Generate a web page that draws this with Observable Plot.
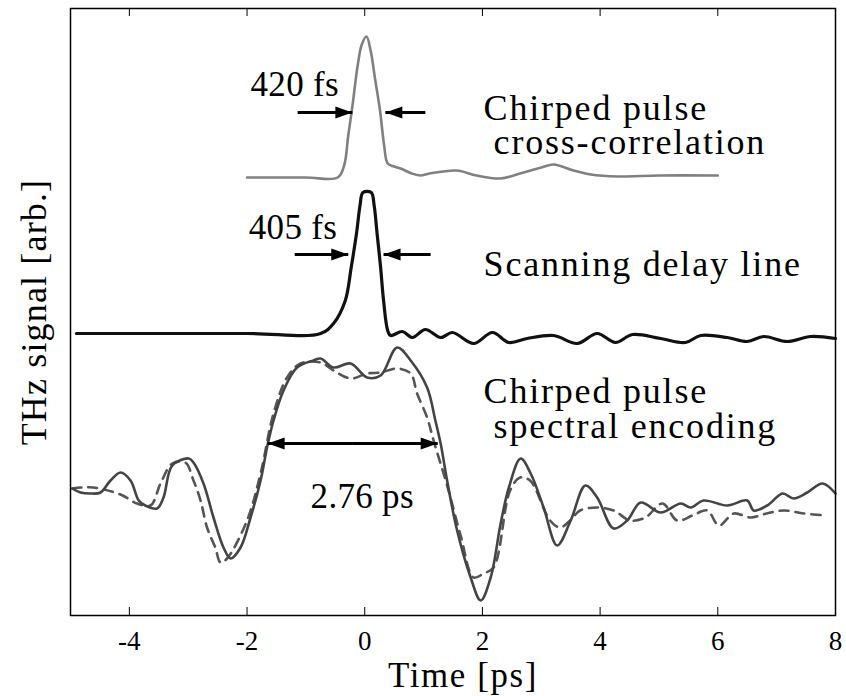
<!DOCTYPE html>
<html><head><meta charset="utf-8">
<script src="https://cdn.jsdelivr.net/npm/d3@7"></script>
<script src="https://cdn.jsdelivr.net/npm/@observablehq/plot@0.6"></script>
<style>
body{margin:0;background:#fff}
svg text{font-family:"Liberation Serif",serif !important;}
.word-labels text, g[font-size="36"] text{letter-spacing:1.8px;}
.number-labels text, g[font-size="35"] text{letter-spacing:0.3px;}
.x-title text, g[font-size="34.9"] text{letter-spacing:1.6px;}
.y-title text, g[font-size="35.9"] text{letter-spacing:1.2px;}
</style>
</head><body><div id="chart"></div>
<script>
// Chirped pulse cross-correlation (gray, top)
const crossT = [-2.0, -1.0, -0.46, -0.35, -0.28, -0.21, -0.12, -0.05, 0.03, 0.1, 0.18, 0.26, 0.33, 0.39, 0.5, 0.61, 0.8, 0.95, 1.1, 1.56, 1.9, 2.31, 2.7, 3.0, 3.21, 3.55, 3.84, 4.3, 5.0, 6.0];
const crossV = [43.8, 43.8, 43.8, 45.0, 48.0, 50.9, 55.0, 57.1, 57.9, 56.5, 53.5, 50.5, 47.0, 45.2, 44.9, 44.7, 44.2, 44.0, 44.2, 44.5, 44.0, 43.7, 44.3, 44.8, 45.1, 44.5, 44.1, 43.9, 44.0, 44.0];

// Scanning delay line (black, middle)
const scanT = [-4.9, -2.0, -0.75, -0.53, -0.33, -0.23, -0.14, -0.08, -0.03, 0.11, 0.16, 0.21, 0.27, 0.32, 0.39, 0.44, 0.64, 0.81, 1.03, 1.29, 1.49, 1.85, 2.17, 2.45, 2.76, 3.21, 3.61, 3.95, 4.26, 4.55, 5.03, 5.45, 5.71, 6.16, 6.5, 6.78, 7.18, 7.58, 8.0];
const scanV = [28.2, 28.2, 28.2, 29.2, 31.5, 34.8, 38.2, 41.0, 42.3, 42.3, 41.0, 38.2, 34.8, 31.5, 28.5, 28.0, 28.4, 27.8, 28.6, 27.8, 28.3, 27.2, 28.3, 27.3, 27.7, 28.0, 27.2, 28.2, 27.3, 28.1, 27.7, 27.3, 28.0, 27.8, 27.4, 27.9, 27.4, 27.9, 27.7];

// Chirped pulse spectral encoding, solid trace
const specT = [-4.97, -4.83, -4.66, -4.49, -4.32, -4.15, -3.98, -3.84, -3.73, -3.53, -3.42, -3.27, -2.99, -2.91, -2.74, -2.57, -2.40, -2.28, -2.11, -1.94, -1.77, -1.66, -1.55, -1.38, -1.15, -0.87, -0.75, -0.53, -0.24, 0.04, 0.27, 0.55, 0.78, 1.06, 1.20, 1.29, 1.40, 1.57, 1.80, 1.97, 2.14, 2.31, 2.45, 2.65, 2.82, 3.04, 3.27, 3.50, 3.75, 3.95, 4.23, 4.46, 4.69, 5.03, 5.37, 5.54, 5.76, 6.16, 6.50, 6.61, 6.84, 7.10, 7.29, 7.52, 7.78, 8.0];
const specV = [12.7, 12.3, 12.2, 12.3, 13.5, 14.3, 13.5, 11.5, 11.0, 10.7, 11.8, 15.0, 15.7, 15.3, 13.2, 9.8, 6.8, 5.7, 6.8, 9.8, 13.5, 16.8, 19.5, 22.5, 24.8, 25.5, 25.7, 24.8, 25.2, 23.8, 24.0, 26.8, 25.5, 22.8, 19.5, 17.2, 13.5, 8.5, 3.8, 1.5, 3.8, 9.2, 12.8, 15.7, 14.2, 10.8, 7.0, 9.5, 13.0, 11.8, 8.7, 9.5, 11.3, 10.3, 11.2, 10.8, 11.5, 11.0, 11.5, 10.5, 11.0, 12.2, 11.7, 12.3, 13.2, 12.2];

// Chirped pulse spectral encoding, dashed trace
const dashT = [-4.97, -4.80, -4.61, -4.15, -3.87, -3.64, -3.47, -3.27, -3.05, -2.91, -2.79, -2.68, -2.54, -2.45, -2.34, -2.00, -1.77, -1.55, -1.32, -1.09, -0.75, -0.53, -0.24, 0.04, 0.27, 0.55, 0.78, 0.89, 1.06, 1.17, 1.40, 1.63, 1.85, 2.02, 2.19, 2.47, 2.64, 2.81, 3.15, 3.32, 3.49, 3.66, 3.94, 4.23, 4.51, 4.77, 5.06, 5.31, 5.57, 5.82, 6.02, 6.27, 6.56, 6.83, 7.12, 7.46, 7.85];
const dashV = [12.7, 12.8, 12.8, 12.1, 11.2, 11.0, 13.2, 15.2, 15.3, 13.5, 11.5, 8.8, 6.8, 5.3, 5.7, 9.5, 14.2, 20.2, 23.8, 25.2, 25.3, 24.5, 23.7, 24.2, 24.3, 24.7, 24.2, 22.2, 19.8, 17.5, 13.0, 8.0, 3.8, 4.2, 4.8, 12.5, 13.8, 13.5, 9.5, 8.8, 9.5, 10.5, 10.8, 10.5, 9.5, 9.8, 11.2, 9.5, 10.0, 10.5, 9.0, 10.2, 9.8, 10.2, 10.5, 10.2, 10.0];

// Tick values
const xTicks = [-4, -2, 0, 2, 4, 6, 8];
const topTicks = [-4, -2, 0, 2, 4, 6];

// Annotation labels (words)
const wordText = ["Chirped pulse", "cross-correlation", "Scanning delay line", "Chirped pulse", "spectral encoding"];
const wordT = [2.02, 2.19, 2.02, 2.02, 2.19];
const wordV = [49.6, 46.2, 34.0, 21.3, 17.8];

// Annotation labels (widths)
const numText = ["420 fs", "405 fs", "2.76 ps"];
const numT = [-1.94, -1.97, -0.92];
const numV = [52.0, 37.7, 10.8];

// Width-marker arrows: shaft from (x1) to tip (x2) at level y
const arrowX1 = [-1.14, 1.03, -1.19, 1.12, -0.2, -0.2];
const arrowX2 = [-0.21, 0.35, -0.28, 0.32, -1.65, 1.24];
const arrowY = [50.3, 50.3, 36.1, 36.1, 17.2, 17.2];

const FONT = "Liberation Serif";
const zip = (T, V) => T.map((t, i) => ({t, v: V[i]}));
const arrows = arrowX1.map((x1, i) => ({x1, x2: arrowX2[i], y: arrowY[i], r: arrowX2[i] > x1 ? 90 : -90}));
const words = wordText.map((s, i) => ({s, t: wordT[i], v: wordV[i]}));
const nums = numText.map((s, i) => ({s, t: numT[i], v: numV[i]}));
const headShape = {draw(ctx, l) { ctx.moveTo(0, 0); ctx.lineTo(-6, l); ctx.lineTo(6, l); ctx.closePath(); }};

const chart = Plot.plot({
  width: 846, height: 696,
  marginLeft: 70, marginRight: 11, marginTop: 8, marginBottom: 81,
  x: {domain: [-5, 8], axis: null},
  y: {domain: [0, 60.7], axis: null},
  style: {fontFamily: FONT, background: "white", color: "black"},
  marks: [
    Plot.line(zip(crossT, crossV), {x: "t", y: "v", stroke: "#808080", strokeWidth: 2.6, curve: "catmull-rom"}),
    Plot.line(zip(scanT, scanV), {x: "t", y: "v", stroke: "#111", strokeWidth: 3.2, curve: "catmull-rom"}),
    Plot.line(zip(dashT, dashV), {x: "t", y: "v", stroke: "#555", strokeWidth: 2.6, strokeDasharray: "9,7", curve: "catmull-rom"}),
    Plot.line(zip(specT, specV), {x: "t", y: "v", stroke: "#444", strokeWidth: 2.6, curve: "catmull-rom"}),
    Plot.link(arrows, {x1: "x1", x2: "x2", y1: "y", y2: "y", stroke: "black", strokeWidth: 3}),
    Plot.vector(arrows, {x: "x2", y: "y", rotate: "r", length: 17, shape: headShape, anchor: "start", fill: "black", stroke: "none"}),
    Plot.text(words, {x: "t", y: "v", text: "s", textAnchor: "start", lineAnchor: "bottom", fontSize: 36, fontFamily: FONT, fill: "black", className: "word-labels"}),
    Plot.text(nums, {x: "t", y: "v", text: "s", textAnchor: "start", lineAnchor: "bottom", fontSize: 35, fontFamily: FONT, fill: "black", className: "number-labels"}),
    Plot.axisX({anchor: "bottom", ticks: xTicks, tickSize: -8, tickFormat: () => "", label: null}),
    Plot.axisX({anchor: "bottom", ticks: xTicks, tickSize: 0, tickPadding: 15, tickFormat: (d) => String(d), fontSize: 27, fontFamily: FONT, label: null}),
    Plot.axisX({anchor: "top", ticks: topTicks, tickSize: -7, tickFormat: () => "", label: null}),
    Plot.frame({stroke: "black", strokeWidth: 1.5}),
    Plot.text(["Time [ps]"], {text: (d) => d, frameAnchor: "bottom", textAnchor: "middle", dy: 71, dx: 10, fontSize: 34.9, fontFamily: FONT, lineAnchor: "bottom", fill: "black", className: "x-title"}),
    Plot.text(["THz signal [arb.]"], {text: (d) => d, frameAnchor: "left", textAnchor: "middle", rotate: -90, dx: -36, fontSize: 35.9, fontFamily: FONT, lineAnchor: "middle", fill: "black", className: "y-title"})
  ]
});
document.getElementById("chart").appendChild(chart);
</script>
</body></html>
